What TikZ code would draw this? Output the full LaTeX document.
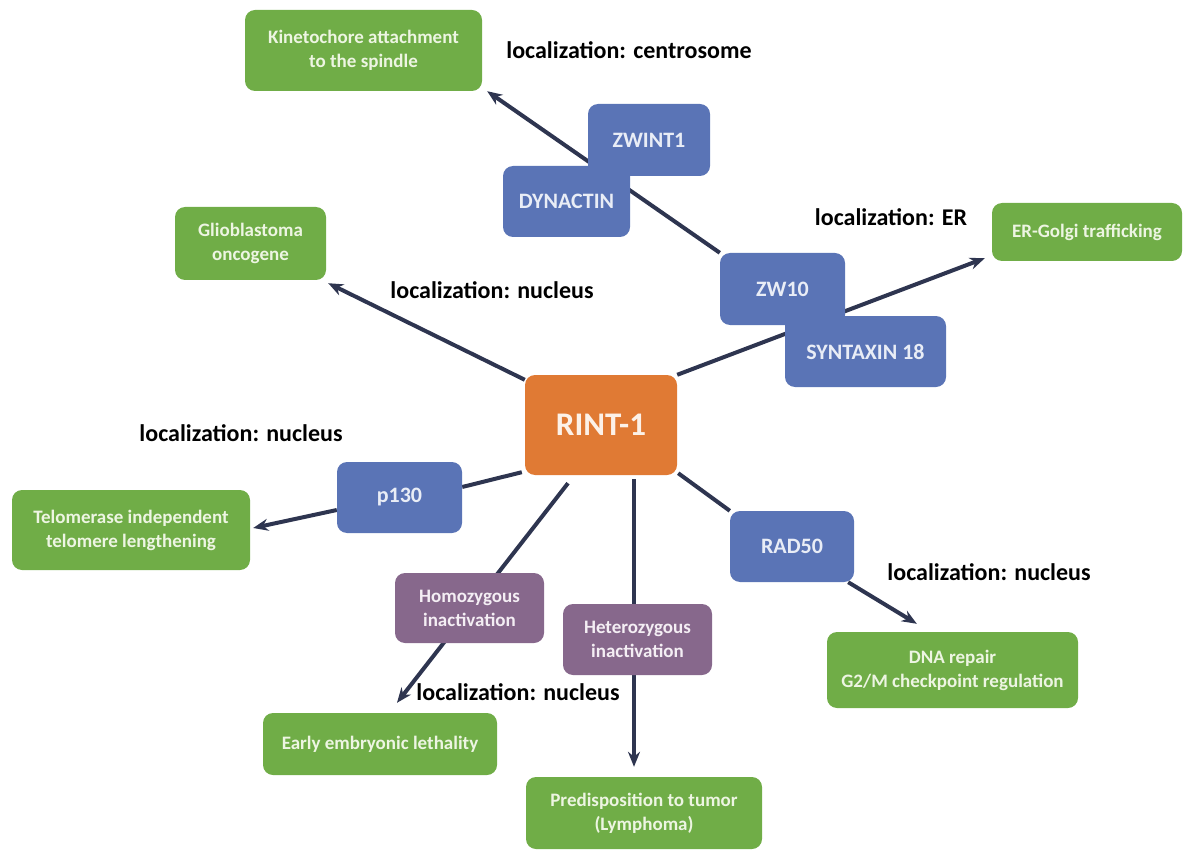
\documentclass[tikz,border=0pt]{standalone}
\usepackage{fontspec}
\setmainfont{Carlito}
\usetikzlibrary{arrows.meta}

\definecolor{leaf}{HTML}{70AD47}
\definecolor{leaftext}{HTML}{EDF5E2}
\definecolor{protblue}{HTML}{5A74B6}
\definecolor{prottext}{HTML}{E9EDF6}
\definecolor{mauve}{HTML}{87688C}
\definecolor{mauvetext}{HTML}{F4EEF4}
\definecolor{hub}{HTML}{E07A34}
\definecolor{hubtext}{HTML}{FCF1E8}
\definecolor{linkc}{HTML}{2E3550}

\pgfdeclarelayer{back}
\pgfsetlayers{back,main}

\begin{document}
\begin{tikzpicture}[x=1pt,y=-1pt,
  sz/.style 2 args={minimum width=#1pt, minimum height=#2pt},
  box/.style={rounded corners=10pt, inner sep=0pt, align=center,
    font=\bfseries\fontsize{19}{24}\selectfont},
  effect/.style={box, fill=leaf, text=leaftext},
  prot/.style={box, fill=protblue, text=prottext,
    font=\bfseries\fontsize{22}{26}\selectfont},
  geno/.style={box, fill=mauve, text=mauvetext},
  hubbox/.style={box, fill=hub, text=hubtext,
    font=\bfseries\fontsize{33}{38}\selectfont},
  loc/.style={font=\bfseries\fontsize{24}{28}\selectfont, text=black, inner sep=0pt},
  lnk/.style={line width=4pt, draw=linkc},
  arr/.style={lnk, -{Stealth[length=15pt,width=12pt]}}
]
\useasboundingbox (0,0) rectangle (1183,850);

% effect boxes
\node[effect, sz={237}{81}] (kin) at (363.5,50.5) {Kinetochore attachment\\to the spindle};
\node[effect, sz={151}{73}] (glio) at (250.5,243.5) {Glioblastoma\\oncogene};
\node[effect, sz={190}{58}] (erg) at (1087,232) {ER-Golgi trafficking};
\node[effect, sz={238}{80}] (tel) at (131,530) {Telomerase independent\\telomere lengthening};
\node[effect, sz={234}{62}] (early) at (380,744) {Early embryonic lethality};
\node[effect, sz={236}{72}] (pred) at (644,813) {Predisposition to tumor\\(Lymphoma)};
\node[effect, sz={251}{76}] (dna) at (952.5,670) {DNA repair\\G2/M checkpoint regulation};

% interacting proteins
\node[prot, sz={122}{72}] (zwint) at (649,140) {ZWINT1};
\node[prot, sz={127}{71}] (dyn) at (566.5,201.5) {DYNACTIN};
\node[prot, sz={125}{72}] (zw10) at (782.5,289) {ZW10};
\node[prot, sz={161}{71}] (syn) at (865.5,351.5) {SYNTAXIN 18};
\node[prot, sz={125}{71}] (p130) at (399.5,497.5) {p130};
\node[prot, sz={124}{71}] (rad) at (792,546.5) {RAD50};

% genotype boxes
\node[geno, sz={149}{70}] (homo) at (469.5,608) {Homozygous\\inactivation};
\node[geno, sz={149}{71}] (hetero) at (637.5,639.5) {Heterozygous\\inactivation};

% central protein
\node[hubbox, sz={152}{100}] (rint) at (601,425) {RINT-1};

% localization labels
\node[loc] (lcen) at (629,50) {localization: centrosome};
\node[loc] (ler) at (891,217) {localization: ER};
\node[loc] (lnuc1) at (492,290) {localization: nucleus};
\node[loc] (lnuc2) at (241,433) {localization: nucleus};
\node[loc] (lnuc3) at (518,692) {localization: nucleus};
\node[loc] (lnuc4) at (989,572) {localization: nucleus};

% connectors, behind the boxes
\begin{pgfonlayer}{back}
\draw[arr] (zw10.north west) -- ([shift={(5,0)}]kin.south east);
\draw[arr] (rint.north east) -- ([shift={(-7,-3)}]erg.south west);
\draw[arr] ([shift={(0,5)}]rint.north west) -- ([shift={(2,3)}]glio.south east);
\draw[lnk] ([shift={(-3,-3)}]rint.south west) -- ([shift={(0,-10.5)}]p130.east);
\draw[arr] ([shift={(0,12.5)}]p130.west) -- ([shift={(3,-2)}]tel.east);
\draw[arr] ([shift={(-33,8)}]rint.south) -- ([shift={(17,-10)}]early.north);
\draw[arr] ([shift={(33,4)}]rint.south) -- ([shift={(-10,-10)}]pred.north);
\draw[lnk] ([shift={(1,-2)}]rint.south east) -- (rad.north west);
\draw[arr] ([shift={(-6,0)}]rad.south east) -- ([shift={(90,-8)}]dna.north west);
\end{pgfonlayer}
\end{tikzpicture}
\end{document}
